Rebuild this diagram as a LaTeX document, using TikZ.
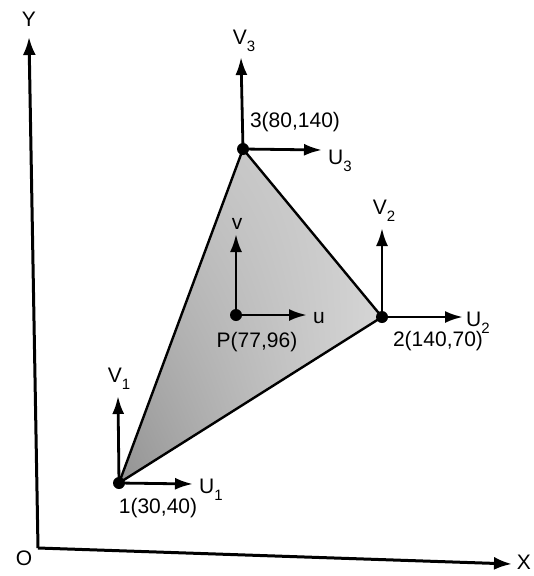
\documentclass[tikz,border=0pt]{standalone}
\usepackage{fontspec}
\setmainfont{Liberation Sans}
\usetikzlibrary{arrows.meta, positioning, shadings}
\newcommand*\sub[1]{\raisebox{-7pt}{\fontsize{15}{15}\selectfont #1}}
\tikzstyle{axis} = [line width=3pt, -{Latex[length=18pt,width=13pt]}]
\tikzstyle{vec} = [line width=2.8pt, -{Latex[length=18pt,width=12pt]}]
\tikzstyle{dot} = [circle, fill=black, inner sep=0pt, minimum size=12pt]
\tikzstyle{lbl} = [font=\fontsize{21}{24}\selectfont, inner sep=0pt]
\tikzstyle{edge} = [line width=2.4pt, line join=round]

\begin{document}
\begin{tikzpicture}[x=1pt, y=-1pt]
    \useasboundingbox (0,0) rectangle (534,576);

    % === AXES ===
    \coordinate (O) at (38,548);
    \coordinate (ytip) at (29,37);
    \coordinate (xtip) at (512,564);
    \draw [axis] (O) -- (ytip);
    \draw [axis] (O) -- (xtip);
    \node (ylab) [lbl] at (29,19) {Y};
    \node (olab) [lbl] at (24,558) {O};
    \node (xlab) [lbl, anchor=east] at (531,562) {X};

    % === ELEMENT ===
    \coordinate (n1) at (119,483);
    \coordinate (n2) at (382,317);
    \coordinate (n3) at (243,149);
    \coordinate (p) at (236,315);
    \shade [upper left=gray!50, upper right=gray!35, lower left=gray!85, lower right=gray!30] (n1) -- (n2) -- (n3) -- cycle;
    \draw [edge] (n1) -- (n2) -- (n3) -- cycle;

    % arrow tips
    \coordinate (v1) at (118,396);
    \coordinate (u1) at (193,484);
    \coordinate (v2) at (382,228);
    \coordinate (u2) at (463,317);
    \coordinate (v3) at (241,57);
    \coordinate (u3) at (322,150);
    \coordinate (vp) at (236,234);
    \coordinate (up) at (307,315);

    % displacement vectors
    \draw [vec] (n1) -- (v1);
    \draw [vec] (n1) -- (u1);
    \draw [vec] (n2) -- (v2);
    \draw [vec] (n2) -- (u2);
    \draw [vec] (n3) -- (v3);
    \draw [vec] (n3) -- (u3);
    \draw [vec] (p) -- (vp);
    \draw [vec] (p) -- (up);

    \node (d1) [dot] at (n1) {};
    \node (d2) [dot] at (n2) {};
    \node (d3) [dot] at (n3) {};
    \node (dp) [dot] at (p) {};

    % === LABELS ===
    \node (v1lab) [lbl, above=6pt of v1, xshift=1pt] {V\sub{1}};
    \node (v2lab) [lbl, above=6pt of v2, xshift=2pt] {V\sub{2}};
    \node (v3lab) [lbl, above=5pt of v3, xshift=3pt] {V\sub{3}};
    \node (vplab) [lbl, above=4pt of vp, xshift=1pt] {v};
    \node (u1lab) [lbl, anchor=base west, xshift=6pt, yshift=-9pt] at (u1) {U\sub{1}};
    \node (u2lab) [lbl, anchor=base west, xshift=3pt, yshift=-9pt] at (u2) {U\sub{2}};
    \node (u3lab) [lbl, anchor=base west, xshift=6pt, yshift=-14pt] at (u3) {U\sub{3}};
    \node (uplab) [lbl, anchor=base west, xshift=6pt, yshift=-8pt] at (up) {u};

    \node (l1) [lbl] at (158,508) {1(30,40)};
    \node (l2) [lbl] at (438,341) {2(140,70)};
    \node (l3) [lbl] at (295,122) {3(80,140)};
    \node (lp) [lbl] at (257,342) {P(77,96)};

\end{tikzpicture}
\end{document}
